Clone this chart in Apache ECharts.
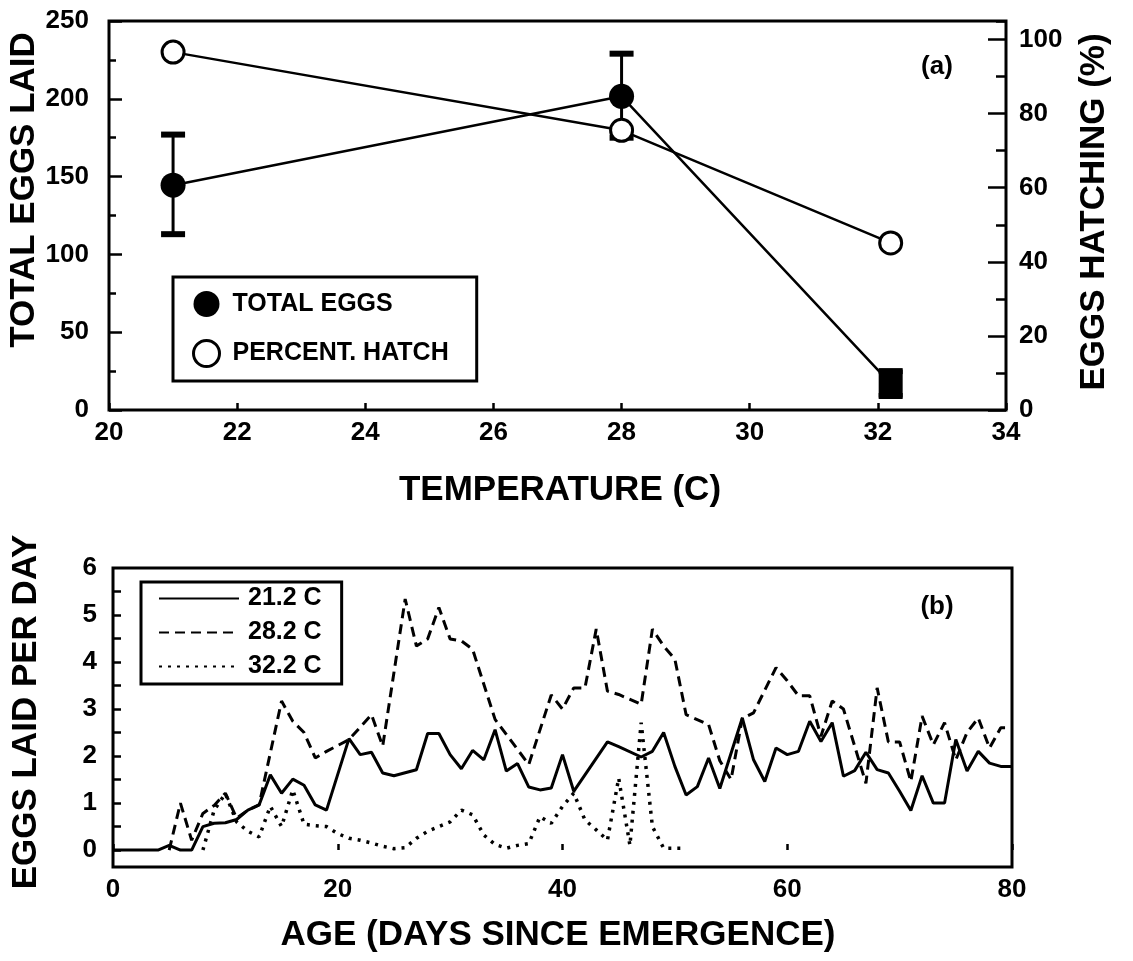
<!DOCTYPE html>
<html>
<head>
<meta charset="utf-8">
<script src="https://cdn.jsdelivr.net/npm/echarts@6/dist/echarts.min.js"></script>
<style>
  html, body { margin: 0; padding: 0; background: #fff; }
  #chart { width: 1133px; height: 961px; }
</style>
</head>
<body>
<div id="chart"></div>
<script>
// ---------- Panel (a) data ----------
const tempX     = [21, 28, 32.2];
const totalEggs = [144.5, 201.6, 17];
const eggsLow   = [113, 175, 9];
const eggsHigh  = [177, 229, 25];
const pctHatch  = [96.6, 75.5, 45.1];

const tempTicks      = [20, 22, 24, 26, 28, 30, 32, 34];
const eggsTicks      = [0, 50, 100, 150, 200, 250];
const hatchTicks     = [0, 20, 40, 60, 80, 100];

// ---------- Panel (b) data ----------
const days212 = [0,1,2,3,4,5,6,7,8,9,10,11,12,13,14,15,16,17,18,19,
  21,22,23,24,25,27,28,29,30,31,32,33,34,35,36,37,38,39,40,41,44,45,
  47,48,49,50,51,52,53,54,56,57,58,59,60,61,62,63,64,65,66,67,68,69,70,
  71,72,73,74,75,76,77,78,79,80];
const eggs212 = [0,0,0,0,0,0.1,0,0,0.5,0.57,0.58,0.65,0.85,0.96,1.6,1.21,1.51,1.38,0.96,0.85,
  2.37,2.03,2.08,1.64,1.58,1.71,2.48,2.48,2.03,1.73,2.12,1.92,2.56,1.68,1.84,1.34,1.28,1.32,2.03,1.25,2.3,2.2,
  1.98,2.1,2.5,1.78,1.17,1.35,1.96,1.31,2.81,1.92,1.46,2.17,2.03,2.1,2.74,2.31,2.71,1.57,1.69,2.08,1.71,1.64,1.25,
  0.84,1.58,1.0,1.0,2.35,1.68,2.1,1.85,1.78,1.78];

const days282 = [5,6,7,8,9,10,11,12,13,15,16,17,18,19,21,23,24,26,27,28,29,30,31,32,
  34,35,37,39,40,41,42,43,44,45,47,48,49,50,51,53,54,55,56,57,
  59,60,61,62,63,64,65,66,67,68,69,70,71,72,73,74,75,76,77,78,79,80];
const eggs282 = [0,1.0,0.21,0.78,0.95,1.21,0.68,0.85,0.96,3.17,2.74,2.5,1.96,2.1,2.35,2.88,2.21,5.34,4.34,4.49,5.16,4.49,4.45,4.27,
  2.78,2.46,1.82,3.3,3.0,3.45,3.45,4.7,3.38,3.31,3.1,4.7,4.34,4.06,2.88,2.67,1.9,1.5,2.8,2.92,
  3.88,3.6,3.28,3.28,2.42,3.17,3.0,2.21,1.42,3.45,2.3,2.3,1.46,2.85,2.24,2.71,1.92,2.5,2.81,2.17,2.6,2.6];

const days322 = [8,9,10,11,12,13,14,15,16,17,18,19,20,21,22,23,24,25,26,27,28,29,30,31,32,33,34,35,36,37,38,39,40,41,42,43,44,45,46,47,48,49,50,51];
const eggs322 = [0,0.85,1.2,0.6,0.4,0.28,0.93,0.5,1.28,0.55,0.52,0.5,0.35,0.25,0.21,0.15,0.08,0.03,0.05,0.25,
  0.4,0.5,0.6,0.85,0.75,0.32,0.12,0.04,0.1,0.14,0.71,0.57,0.93,1.21,0.64,0.43,0.21,1.53,0.1,2.71,0.5,0.04,0.04,0.04];

const ageTicks     = [0, 20, 40, 60, 80];
const perDayLabels = [0, 1, 2, 3, 4, 5, 6];
const perDayTicks  = [0, 0.5, 1, 1.5, 2, 2.5, 3, 3.5, 4, 4.5, 5, 5.5];

// ---------- helpers ----------
const zip = (a, b) => a.map((v, i) => [v, b[i]]);
const FONT = '"Liberation Sans", Arial, Helvetica, sans-serif';
const lbl = (margin) => ({ fontSize: 26, fontWeight: 'bold', color: '#000', fontFamily: FONT, margin: margin });
const tick = (len, w) => ({ show: true, inside: true, length: len, lineStyle: { color: '#000', width: w || 2.5 } });

const chart = echarts.init(document.getElementById('chart'), null, { renderer: 'canvas' });

function errRender(params, api) {
  const x = api.value(0), lo = api.value(1), hi = api.value(2);
  const pL = api.coord([x, lo]), pH = api.coord([x, hi]);
  const w = 12;
  return {
    type: 'group',
    children: [
      { type: 'line', shape: { x1: pL[0], y1: pL[1], x2: pH[0], y2: pH[1] }, style: { stroke: '#000', lineWidth: 3 } },
      { type: 'rect', shape: { x: pH[0] - w, y: pH[1] - 3, width: 2 * w, height: 6 }, style: { fill: '#000' } },
      { type: 'rect', shape: { x: pL[0] - w, y: pL[1] - 3, width: 2 * w, height: 6 }, style: { fill: '#000' } }
    ]
  };
}

const titleFont = 'bold 35px ' + FONT;
function txt(t, x, y, rot, font) {
  return {
    type: 'text', x: x, y: y, rotation: rot || 0, z: 100,
    style: { text: t, font: font || titleFont, fill: '#000',
             textAlign: 'center', textVerticalAlign: 'middle', align: 'center', verticalAlign: 'middle' }
  };
}

// the highest-temperature point is drawn as a filled square in the original
const totalEggsData = zip(tempX, totalEggs).map((p, i) =>
  i === tempX.length - 1 ? { value: p, symbol: 'rect', symbolSize: [24, 28] } : { value: p });

const option = {
  animation: false,
  backgroundColor: '#fff',
  textStyle: { fontFamily: FONT, color: '#000' },
  grid: [
    { left: 109, top: 21, width: 897, height: 389, show: true, borderColor: '#000', borderWidth: 3, backgroundColor: 'transparent' },
    { left: 113, top: 568, width: 899, height: 299, show: true, borderColor: '#000', borderWidth: 3, backgroundColor: 'transparent' }
  ],
  xAxis: [
    { type: 'value', gridIndex: 0, min: tempTicks[0], max: tempTicks[tempTicks.length - 1], interval: 2,
      axisLine: { show: false }, splitLine: { show: false },
      axisTick: tick(7), axisLabel: lbl(10) },
    { type: 'value', gridIndex: 1, min: ageTicks[0], max: ageTicks[ageTicks.length - 1], interval: 20,
      axisLine: { show: false }, splitLine: { show: false },
      axisTick: tick(6), axisLabel: lbl(10) }
  ],
  yAxis: [
    { type: 'value', gridIndex: 0, position: 'left', min: eggsTicks[0], max: eggsTicks[eggsTicks.length - 1], interval: 50,
      axisLine: { show: false }, splitLine: { show: false },
      axisTick: tick(13), minorTick: { show: true, splitNumber: 2, length: 7, lineStyle: { color: '#000', width: 2.5 } },
      axisLabel: lbl(20) },
    { type: 'value', gridIndex: 0, position: 'right', min: 0, max: 105, interval: 20,
      axisLine: { show: false }, splitLine: { show: false },
      axisTick: Object.assign(tick(18), { customValues: hatchTicks }),
      axisLabel: Object.assign(lbl(13), { customValues: hatchTicks }) },
    { type: 'value', gridIndex: 0, position: 'right', min: 0, max: 105, interval: 10,
      axisLine: { show: false }, splitLine: { show: false },
      axisTick: tick(10), axisLabel: { show: false } },
    { type: 'value', gridIndex: 1, position: 'left', min: -0.36, max: 6,
      axisLine: { show: false }, splitLine: { show: false },
      axisTick: Object.assign(tick(8), { customValues: perDayTicks }),
      axisLabel: Object.assign(lbl(16), { customValues: perDayLabels }) }
  ],
  legend: [
    { orient: 'vertical', left: 173, top: 277, selectedMode: false,
      borderColor: '#000', borderWidth: 3, borderRadius: 0, backgroundColor: '#fff',
      padding: [14, 28, 13, 19], itemWidth: 26, itemHeight: 26, itemGap: 22,
      textStyle: { fontSize: 25, fontWeight: 'bold', color: '#000', fontFamily: FONT, padding: [0, 0, 0, 8] },
      data: [
        { name: 'TOTAL EGGS', icon: 'circle', itemStyle: { color: '#000', borderWidth: 0 } },
        { name: 'PERCENT. HATCH', icon: 'circle', itemStyle: { color: '#fff', borderColor: '#000', borderWidth: 3 } }
      ] },
    { orient: 'vertical', left: 141, top: 582, selectedMode: false,
      borderColor: '#000', borderWidth: 3, borderRadius: 0, backgroundColor: '#fff',
      padding: [4, 20, 5, 17], itemWidth: 80, itemHeight: 25, itemGap: 9,
      itemStyle: { color: 'transparent', borderColor: 'transparent', borderWidth: 0, opacity: 0 },
      textStyle: { fontSize: 25, fontWeight: 'bold', color: '#000', fontFamily: FONT, lineHeight: 25, padding: [0, 0, 0, 4] },
      data: ['21.2 C', '28.2 C', '32.2 C'] }
  ],
  series: [
    { name: 'EGGS ERR', type: 'custom', xAxisIndex: 0, yAxisIndex: 0, z: 3,
      renderItem: errRender, encode: { x: 0, y: [1, 2] },
      data: tempX.map((t, i) => [t, eggsLow[i], eggsHigh[i]]) },
    { name: 'TOTAL EGGS', type: 'line', xAxisIndex: 0, yAxisIndex: 0, z: 4,
      data: totalEggsData, symbol: 'circle', symbolSize: 25,
      itemStyle: { color: '#000' }, lineStyle: { color: '#000', width: 2.5 } },
    { name: 'PERCENT. HATCH', type: 'line', xAxisIndex: 0, yAxisIndex: 1, z: 5,
      data: zip(tempX, pctHatch), symbol: 'circle', symbolSize: 22,
      itemStyle: { color: '#fff', borderColor: '#000', borderWidth: 3 }, lineStyle: { color: '#000', width: 2.5 } },
    { name: '21.2 C', type: 'line', xAxisIndex: 1, yAxisIndex: 3, symbol: 'none',
      data: zip(days212, eggs212), itemStyle: { color: '#000' },
      lineStyle: { color: '#000', width: 3, type: 'solid' } },
    { name: '28.2 C', type: 'line', xAxisIndex: 1, yAxisIndex: 3, symbol: 'none',
      data: zip(days282, eggs282), itemStyle: { color: '#000' },
      lineStyle: { color: '#000', width: 3, type: [10, 6] } },
    { name: '32.2 C', type: 'line', xAxisIndex: 1, yAxisIndex: 3, symbol: 'none',
      data: zip(days322, eggs322), itemStyle: { color: '#000' },
      lineStyle: { color: '#000', width: 3.5, type: [3, 6] } }
  ],
  graphic: [
    txt('TOTAL EGGS LAID', 24, 190, Math.PI / 2),
    txt('EGGS HATCHING (%)', 1094, 212, Math.PI / 2),
    txt('TEMPERATURE (C)', 560, 490, 0),
    txt('EGGS LAID PER DAY', 26, 712, Math.PI / 2),
    txt('AGE (DAYS SINCE EMERGENCE)', 558, 935, 0),
    txt('(a)', 937, 67, 0, 'bold 26px ' + FONT),
    txt('(b)', 937, 607, 0, 'bold 26px ' + FONT)
  ]
};
chart.setOption(option);
</script>
</body>
</html>
